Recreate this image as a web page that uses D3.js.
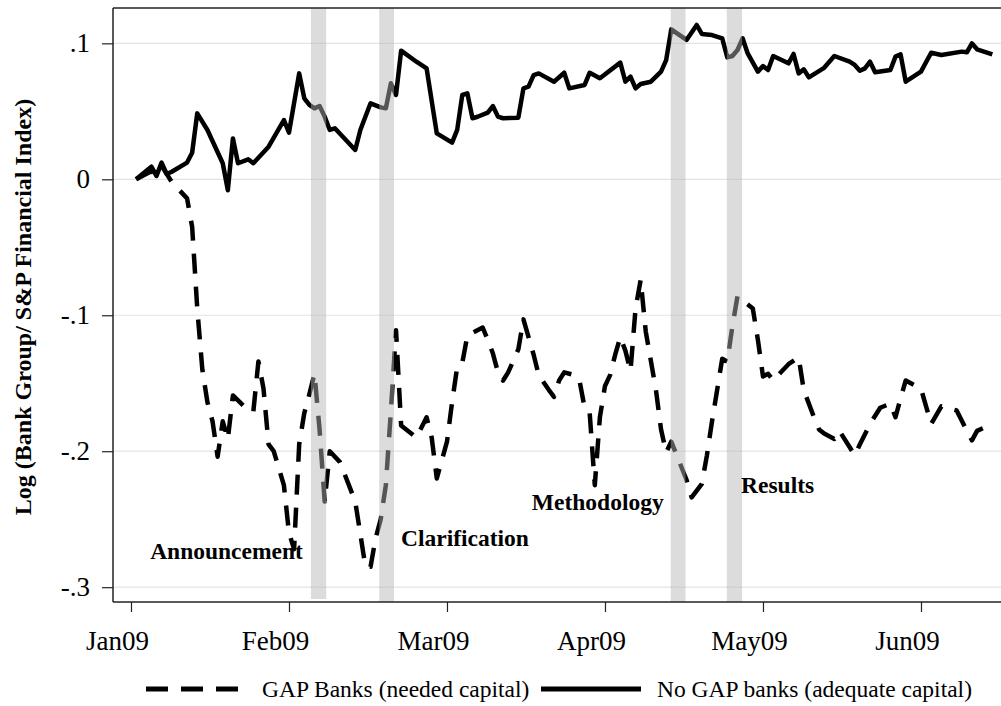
<!DOCTYPE html>
<html><head><meta charset="utf-8">
<script src="https://cdn.jsdelivr.net/npm/d3@7"></script>
<style>
body{margin:0;background:#fff}
svg{display:block}
text{font-family:"Liberation Serif","Times New Roman",serif;fill:#000}
</style>
</head><body>
<svg id="chart" width="1001" height="706"></svg>
<script>
// x values: days since 1 Jan 2009
const monthTicks = [0, 31, 62, 93, 124, 155];
const monthLabels = ["Jan09", "Feb09", "Mar09", "Apr09", "May09", "Jun09"];
const yTicks = [0.1, 0, -0.1, -0.2, -0.3];
const yTickLabels = [".1", "0", "-.1", "-.2", "-.3"];

// No GAP banks (adequate capital) - solid
const noGapDays = [1,4,5,6,7,8,11,12,13,15,18,19,20,21,23,24,27,30,31,33,34,35,36,37,38,39,40,44,45,47,49,50,51,52,53,56,58,60,63,64,65,66,67,68,70,71,72,73,76,77,78,79,80,83,85,86,89,90,92,96,97,98,99,100,102,104,105,106,109,111,112,114,116,117,118,119,120,121,123,124,125,126,129,130,131,132,133,136,138,141,142,143,144,145,146,149,150,151,152,155,157,159,163,164,165,166,169];
const noGapVals = [0.000,0.0093,0.0025,0.0123,0.0039,0.0056,0.0123,0.0196,0.0485,0.0363,0.0118,-0.008,0.030,0.0118,0.0147,0.0118,0.024,0.0436,0.0343,0.0779,0.0596,0.0547,0.0522,0.0539,0.0461,0.0363,0.0375,0.0216,0.0363,0.0559,0.0529,0.0522,0.0706,0.0620,0.0946,0.0865,0.0816,0.0338,0.0270,0.0363,0.0620,0.0632,0.0449,0.046,0.0490,0.0539,0.0461,0.0449,0.0453,0.0669,0.0681,0.0767,0.0779,0.0718,0.0784,0.0669,0.0694,0.0784,0.0743,0.0858,0.0718,0.0755,0.0669,0.0701,0.0718,0.0792,0.0877,0.1103,0.1025,0.1135,0.1069,0.1061,0.1037,0.0897,0.0907,0.0951,0.1037,0.0926,0.0792,0.0833,0.0804,0.0907,0.0853,0.0922,0.0779,0.0809,0.0750,0.0820,0.0907,0.0865,0.0841,0.0799,0.0816,0.0865,0.0787,0.0804,0.0902,0.0919,0.0718,0.0792,0.0931,0.0914,0.0939,0.0934,0.1000,0.0956,0.0919];

// GAP Banks (needed capital) - dashed
const gapDays = [1,4,5,6,7,8,11,12,13,14,15,16,17,18,19,20,23,24,25,26,27,28,30,31,32,33,34,35,36,37,38,39,41,44,46,47,48,49,50,51,52,53,56,58,59,60,62,63,64,65,66,69,70,71,72,73,74,76,77,79,80,82,83,84,85,87,88,89,90,91,92,93,94,95,96,97,98,99,100,101,103,104,105,106,109,110,112,113,114,115,116,117,118,119,122,123,124,125,126,129,131,132,134,135,136,138,139,142,143,145,147,149,150,151,152,155,156,157,159,162,164,165,166,169];
const gapVals = [0.000,0.006,0.003,0.010,0.004,-0.002,-0.014,-0.035,-0.095,-0.140,-0.164,-0.178,-0.204,-0.178,-0.191,-0.159,-0.170,-0.171,-0.134,-0.154,-0.195,-0.200,-0.225,-0.260,-0.272,-0.195,-0.172,-0.158,-0.143,-0.184,-0.237,-0.200,-0.208,-0.237,-0.285,-0.285,-0.264,-0.250,-0.225,-0.170,-0.111,-0.181,-0.190,-0.175,-0.190,-0.220,-0.193,-0.164,-0.138,-0.135,-0.115,-0.109,-0.118,-0.128,-0.142,-0.148,-0.142,-0.125,-0.103,-0.129,-0.144,-0.155,-0.160,-0.148,-0.142,-0.144,-0.148,-0.168,-0.172,-0.225,-0.175,-0.152,-0.144,-0.129,-0.116,-0.126,-0.141,-0.095,-0.074,-0.112,-0.155,-0.184,-0.201,-0.193,-0.221,-0.234,-0.224,-0.203,-0.178,-0.155,-0.132,-0.134,-0.108,-0.086,-0.095,-0.118,-0.145,-0.143,-0.148,-0.136,-0.131,-0.155,-0.175,-0.184,-0.187,-0.191,-0.185,-0.203,-0.195,-0.180,-0.168,-0.165,-0.175,-0.161,-0.148,-0.154,-0.167,-0.180,-0.167,-0.170,-0.185,-0.192,-0.185,-0.180];

// Event windows (days since 1 Jan 2009)
const eventNames = ["Announcement", "Clarification", "Methodology", "Results"];
const eventStart = [35.3, 48.7, 105.9, 116.9];
const eventEnd = [38.3, 51.6, 108.8, 119.9];
const eventLabelVals = [-0.279, -0.270, -0.243, -0.2306];

const seriesNames = ["GAP Banks (needed capital)", "No GAP banks (adequate capital)"];

const svg = d3.select("#chart");
const L = 113, R = 1001, T = 8, B = 602;
const x = d3.scaleLinear().domain([-3.53, 170.7]).range([L, R]);
const y = d3.scaleLinear().domain([-0.3109, 0.1260]).range([B, T]);
const FS = 23.5;
const TICKFS = 27;

// gridlines
svg.append("g").selectAll("line").data(yTicks).join("line")
  .attr("x1", L).attr("x2", R)
  .attr("y1", d => y(d)).attr("y2", d => y(d))
  .attr("stroke", "#e3e3e3").attr("stroke-width", 1.2);

const line = d3.line().x(d => x(d[0])).y(d => y(d[1]));
const solidData = noGapDays.map((d, i) => [d, noGapVals[i]]);
const dashData = gapDays.map((d, i) => [d, gapVals[i]]);

svg.append("path").datum(solidData).attr("d", line)
  .attr("fill", "none").attr("stroke", "#000").attr("stroke-width", 4.5)
  .attr("stroke-linejoin", "round");
svg.append("path").datum(dashData).attr("d", line)
  .attr("fill", "none").attr("stroke", "#000").attr("stroke-width", 4.5)
  .attr("stroke-dasharray", "20,13").attr("stroke-linejoin", "round");

// event bands (drawn over the lines)
svg.append("g").selectAll("rect").data(eventNames).join("rect")
  .attr("x", (d, i) => x(eventStart[i]))
  .attr("width", (d, i) => x(eventEnd[i]) - x(eventStart[i]))
  .attr("y", T).attr("height", (d, i) => i === 0 ? B - T - 3 : B - T)
  .attr("fill", "#b4b4b4").attr("fill-opacity", 0.47);

// event labels
const anchors = ["end", "start", "end", "start"];
const labelOffsets = [-8, 7, -7, -1];
svg.append("g").selectAll("text").data(eventNames).join("text")
  .attr("x", (d, i) => (anchors[i] === "end" ? x(eventStart[i]) : x(eventEnd[i])) + labelOffsets[i])
  .attr("y", (d, i) => y(eventLabelVals[i]))
  .attr("text-anchor", (d, i) => anchors[i])
  .attr("font-weight", "bold").attr("font-size", FS)
  .text(d => d);

// axes
const yAxis = d3.axisLeft(y).tickValues(yTicks)
  .tickFormat((d, i) => yTickLabels[i]).tickSize(11).tickPadding(12);
const gy = svg.append("g").attr("transform", `translate(${L},0)`).call(yAxis);
const xAxis = d3.axisBottom(x).tickValues(monthTicks)
  .tickFormat((d, i) => monthLabels[i]).tickSize(10).tickPadding(24);
const gx = svg.append("g").attr("transform", `translate(0,${B})`).call(xAxis);
[gx, gy].forEach(g => {
  g.select(".domain").attr("stroke", "#222").attr("stroke-width", 1.5);
  g.selectAll(".tick line").attr("stroke", "#222").attr("stroke-width", 1.2);
  g.selectAll(".tick text").attr("font-size", TICKFS)
    .attr("font-family", '"Liberation Serif","Times New Roman",serif').attr("fill", "#000");
});
gx.selectAll(".tick text").attr("dx", -14).attr("dy", "0.5em");
gy.select(".domain").attr("d", `M0,${B}V${T}`);
gx.select(".domain").attr("d", `M${L},0H${R}`);
svg.append("line").attr("x1", L).attr("x2", R).attr("y1", T).attr("y2", T)
  .attr("stroke", "#222").attr("stroke-width", 1.5);

// y title
svg.append("text").attr("transform", `translate(23,${307}) rotate(-90)`)
  .attr("text-anchor", "middle").attr("dominant-baseline", "central")
  .attr("font-weight", "bold").attr("font-size", 24)
  .text("Log (Bank Group/ S&P Financial Index)");

// legend
const lg = svg.append("g");
const legY = 689;
lg.append("line").attr("x1", 146).attr("x2", 240).attr("y1", legY).attr("y2", legY)
  .attr("stroke", "#000").attr("stroke-width", 5).attr("stroke-dasharray", "22,13");
lg.append("text").attr("x", 262).attr("y", legY).attr("dy", "0.33em")
  .attr("font-size", FS).text(seriesNames[0]);
lg.append("line").attr("x1", 541).attr("x2", 641).attr("y1", legY).attr("y2", legY)
  .attr("stroke", "#000").attr("stroke-width", 5);
lg.append("text").attr("x", 657).attr("y", legY).attr("dy", "0.33em")
  .attr("font-size", FS).text(seriesNames[1]);
</script>
</body></html>
